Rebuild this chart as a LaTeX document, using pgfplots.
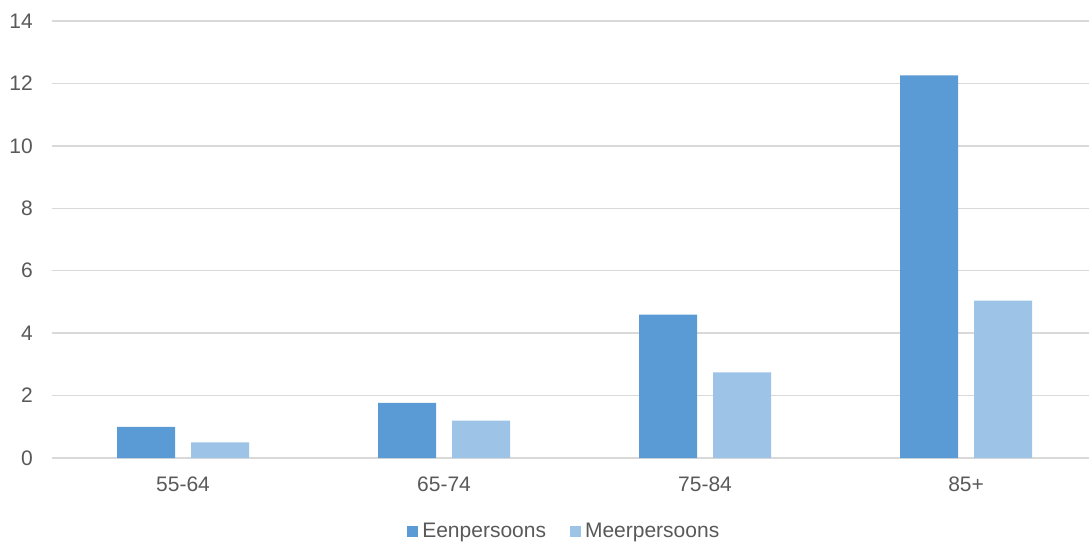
\documentclass[border=0pt]{standalone}
\usepackage{pgfplots}
\pgfplotsset{compat=1.18}
\usepackage{fontspec}
\setmainfont{Liberation Sans}
\definecolor{een}{HTML}{5B9BD5}
\definecolor{meer}{HTML}{9DC3E6}
\definecolor{gridc}{HTML}{D9D9D9}
\definecolor{txt}{HTML}{595959}
\begin{document}
\begin{tikzpicture}
\begin{axis}[
  scale only axis,
  width=1037bp, height=437bp,
  xmin=-0.502, xmax=3.471,
  ymin=0, ymax=14,
  ytick={0,2,...,14},
  xtick={0,1,2,3},
  xticklabels={55-64,65-74,75-84,85+},
  ybar=16bp,
  bar width=58bp,
  axis line style={draw=none},
  major tick length=0pt,
  ymajorgrids,
  grid style={gridc, line width=1.5bp},
  /pgf/number format/assume math mode=true,
  tick label style={font=\fontsize{21bp}{25bp}\selectfont, text=txt, inner sep=0pt},
  yticklabel style={anchor=east, xshift=-19bp},
  xticklabel style={anchor=north, yshift=-19bp},
  legend style={at={(0.494,-0.168)}, anchor=center, legend columns=-1, draw=none,
    font=\fontsize{21bp}{25bp}\selectfont, text=txt,
    /tikz/every even column/.style={column sep=22bp}},
  legend image code/.code={\fill[#1] (0bp,-5.5bp) rectangle (11bp,5.5bp); \path (13bp,0bp);},
]
\addplot[fill=een, draw=none] coordinates {(0,1.0) (1,1.77) (2,4.59) (3,12.26)};
\addplot[fill=meer, draw=none] coordinates {(0,0.50) (1,1.20) (2,2.74) (3,5.04)};
\legend{Eenpersoons, Meerpersoons}
\end{axis}
\pgfresetboundingbox
\useasboundingbox (-52bp,-87bp) rectangle (1037bp,458bp);
\end{tikzpicture}
\end{document}
